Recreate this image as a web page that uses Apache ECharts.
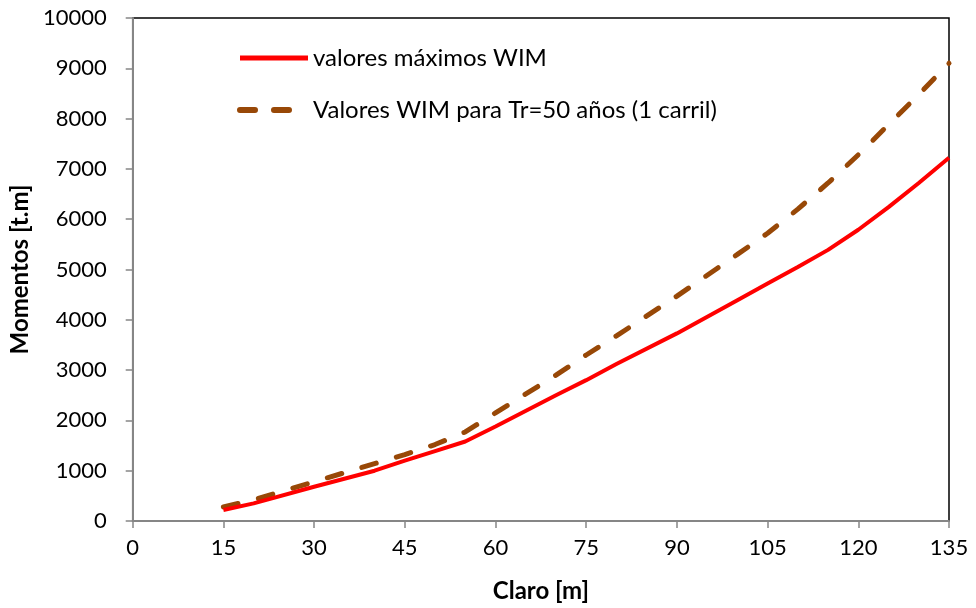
<!DOCTYPE html>
<html><head><meta charset="utf-8">
<script src="https://cdn.jsdelivr.net/npm/echarts@6/dist/echarts.min.js"></script>
<style>html,body{margin:0;padding:0;background:#fff}#c{width:976px;height:608px}</style>
</head><body><div id="c"></div>
<script>
const xValues = [15, 20, 30, 40, 45, 50, 55, 60, 70, 75, 80, 90, 100, 105, 110, 115, 120, 125, 130, 135];
const maxWIM = [220, 350, 680, 1000, 1200, 1390, 1580, 1880, 2500, 2800, 3120, 3730, 4390, 4720, 5050, 5390, 5790, 6240, 6720, 7220];
const wimTr50 = [280, 420, 780, 1140, 1320, 1520, 1770, 2150, 2900, 3300, 3680, 4470, 5300, 5720, 6200, 6720, 7280, 7880, 8480, 9100];
const seriesNames = ['valores máximos WIM', 'Valores WIM para Tr=50 años (1 carril)'];

const font = 'Lato, "Open Sans", sans-serif';
const chart = echarts.init(document.getElementById('c'));
chart.setOption({
  animation: false,
  textStyle: { fontFamily: font },
  grid: { left: 130, right: 27, top: 18, bottom: 87, show: true, borderColor: '#000', borderWidth: 1.5 },
  legend: {
    orient: 'vertical', left: 232, top: 41, itemWidth: 68, itemHeight: 14, itemGap: 28,
    textStyle: { fontSize: 24, color: '#000', fontFamily: font },
    itemStyle: { opacity: 0 },
    data: [
      { name: seriesNames[0], lineStyle: { width: 5, color: '#FF0000' } },
      { name: seriesNames[1], lineStyle: { width: 6, color: '#984807', type: [15, 19], cap: 'round' } }
    ]
  },
  xAxis: {
    type: 'value', min: 0, max: 135, interval: 15,
    name: 'Claro [m]', nameLocation: 'middle', nameGap: 58,
    nameTextStyle: { fontSize: 24, fontWeight: 'bold', color: '#000', fontFamily: font },
    axisLine: { lineStyle: { color: '#868686', width: 2 } },
    axisTick: { show: true, inside: false, length: 7, lineStyle: { color: '#868686', width: 1.5 } },
    axisLabel: { fontSize: 22, color: '#000', margin: 16 },
    splitLine: { show: false }
  },
  yAxis: {
    type: 'value', min: 0, max: 10000, interval: 1000,
    name: 'Momentos [t.m]', nameLocation: 'middle', nameGap: 97, nameRotate: 90,
    nameTextStyle: { fontSize: 24, fontWeight: 'bold', color: '#000', fontFamily: font },
    axisLine: { show: true, lineStyle: { color: '#868686', width: 2 } },
    axisTick: { show: true, inside: false, length: 7, lineStyle: { color: '#868686', width: 1.5 } },
    axisLabel: { fontSize: 22, color: '#000', margin: 26, formatter: v => String(v) },
    splitLine: { show: false }
  },
  series: [
    {
      name: seriesNames[0], type: 'line', showSymbol: false, symbol: 'none',
      data: xValues.map((x, i) => [x, maxWIM[i]]),
      lineStyle: { color: '#FF0000', width: 4 }, itemStyle: { color: '#FF0000' }, z: 3
    },
    {
      name: seriesNames[1], type: 'line', showSymbol: false, symbol: 'none',
      data: xValues.map((x, i) => [x, wimTr50[i]]),
      lineStyle: { color: '#984807', width: 5, type: [15, 21], cap: 'round' }, itemStyle: { color: '#984807' }, z: 2
    }
  ]
});
</script></body></html>
